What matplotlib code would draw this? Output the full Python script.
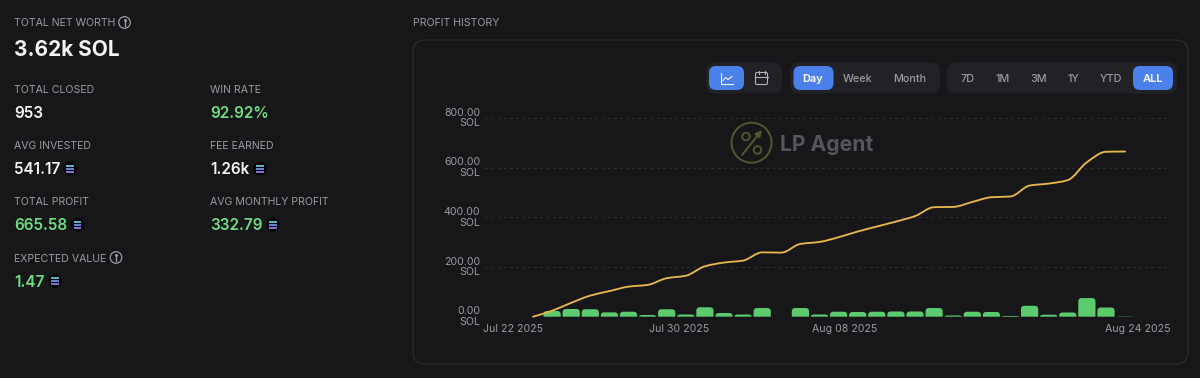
"""
Profit history dashboard: stats panel on the left, bars + cumulative line on the right.
"""
import numpy as np
import matplotlib
matplotlib.use('Agg')
import matplotlib.pyplot as plt
from matplotlib.patches import Circle, FancyBboxPatch, PathPatch
from matplotlib.path import Path

plt.rcParams['font.family'] = ['Inter', 'DejaVu Sans']

# --- Data ---
daily_profit = [23, 31, 30, 17.5, 20, 7, 30, 9, 38, 15, 9, 35, 0, 35, 9, 20, 19, 20, 21, 21,
                35, 5, 20, 19, 3, 44, 8, 17, 75, 37, 1]
total_profit = [0, 24, 56, 85, 103, 121, 128, 155, 165, 203, 218, 226, 259, 258, 293, 301, 320,
                343, 363, 383, 405, 441, 442, 462, 481, 484, 528, 536, 550, 622, 664, 665]
y_ticks = [0, 200, 400, 600, 800]
y_tick_labels = ['0.00\nSOL', '200.00\nSOL', '400.00\nSOL', '600.00\nSOL', '800.00\nSOL']
date_labels = ['Jul 22 2025', 'Jul 30 2025', 'Aug 08 2025', 'Aug 24 2025']

stat_labels = ['TOTAL CLOSED', 'WIN RATE', 'AVG INVESTED', 'FEE EARNED',
               'TOTAL PROFIT', 'AVG MONTHLY PROFIT', 'EXPECTED VALUE']
stat_values = ['953', '92.92%', '541.17', '1.26k', '665.58', '332.79', '1.47']

BG = '#17171a'
PILL = '#222226'
BLUE = '#4b80ea'
GREEN = '#6fdc82'
BAR = '#5ccb6d'
GOLD = '#e6b54c'
LABEL = '#9b9b9f'
WHITE = '#f4f4f5'
OLIVE = '#55562f'

fig = plt.figure(figsize=(12, 3.78), dpi=100, facecolor=BG)

# UI layer in pixel coordinates
ui = fig.add_axes([0, 0, 1, 1])
ui.set_xlim(0, 1200)
ui.set_ylim(378, 0)
ui.axis('off')


def txt(x, y, s, size, color, weight='normal', ha='left'):
    ui.text(x, y, s, fontsize=size, color=color, fontweight=weight, ha=ha, va='center_baseline')


def pill(x0, y0, x1, y1, color, r=8):
    ui.add_patch(FancyBboxPatch((x0 + r, y0 + r), x1 - x0 - 2 * r, y1 - y0 - 2 * r,
                                boxstyle=f'round,pad={r},rounding_size={r}', fc=color, ec='none'))


def info_icon(x, y):
    ui.add_patch(Circle((x, y), 5.8, fc='none', ec=LABEL, lw=0.9))
    ui.plot([x, x], [y - 0.5, y + 3], color=LABEL, lw=1)
    ui.plot([x], [y - 2.6], 'o', color=LABEL, ms=1.2)


def sol_icon(x, y):
    ui.add_patch(Circle((x, y), 7, fc='#060608', ec='none'))
    for dy, c in zip([-3, 0, 3], ['#62c4e6', '#6f8fe8', '#8f7fe8']):
        ui.plot([x - 3.8, x + 3.8], [y + dy, y + dy], color=c, lw=1.3, solid_capstyle='butt')


# Left stats
txt(14, 22.5, 'TOTAL NET WORTH', 7.6, LABEL)
info_icon(124.5, 22.5)
txt(14, 47.5, '3.62k SOL', 15, WHITE, 'bold')

stat_x = [14, 210, 14, 210, 14, 210, 14]
label_y = [89, 89, 145, 145, 201, 201, 257.5]
value_y = [112.5, 112.5, 168.5, 168.5, 224.5, 224.5, 281]
value_col = [WHITE, GREEN, WHITE, WHITE, GREEN, GREEN, GREEN]
for i in range(len(stat_labels)):
    txt(stat_x[i], label_y[i], stat_labels[i], 7.6, LABEL)
    txt(stat_x[i], value_y[i], stat_values[i], 11, value_col[i], 'semibold')
info_icon(116, 257.5)
for x, y in [(70, 168.5), (260, 168.5), (77.5, 224.5), (273, 224.5), (55, 281)]:
    sol_icon(x, y)

# Chart panel
txt(413, 22.5, 'PROFIT HISTORY', 7.6, LABEL)
ui.add_patch(FancyBboxPatch((425, 52), 751, 300, boxstyle='round,pad=12,rounding_size=12',
                            fc='none', ec='#2c2c30', lw=0.9))

# Button groups
pill(706, 62.5, 782, 93.5, PILL, 9)
pill(790, 62.5, 940, 93.5, PILL, 9)
pill(947, 62.5, 1177, 93.5, PILL, 9)
pill(709, 66, 744, 90, BLUE, 7)
pill(793.5, 66, 833.5, 90, BLUE, 7)
pill(1133, 66, 1173, 90, BLUE, 7)

for x, s in [(858, 'Week'), (910, 'Month'), (967.5, '7D'), (1002.5, '1M'), (1039, '3M'),
             (1073, '1Y'), (1111.5, 'YTD')]:
    txt(x, 78, s, 7.8, LABEL, 'medium', 'center')
txt(813, 78, 'Day', 7.8, WHITE, 'bold', 'center')
txt(1153, 78, 'ALL', 7.8, WHITE, 'bold', 'center')

# Line chart icon
ui.plot([721, 721, 732.5], [73, 83.5, 83.5], color=WHITE, lw=0.8)
ui.plot([723, 725.5, 728, 732], [80.5, 77.5, 79.5, 76.5], color=WHITE, lw=0.8)
# Calendar icon
ui.add_patch(FancyBboxPatch((757, 74), 9, 9, boxstyle='round,pad=1.5,rounding_size=1.5',
                            fc='none', ec='#b5b5b8', lw=0.8))
ui.plot([755.5, 767.5], [76.5, 76.5], color='#b5b5b8', lw=0.8)
ui.plot([758.5, 758.5], [71, 74], color='#b5b5b8', lw=0.8)
ui.plot([764.5, 764.5], [71, 74], color='#b5b5b8', lw=0.8)

# Watermark
ui.add_patch(Circle((751.5, 142.7), 20, fc='none', ec=OLIVE, lw=1.4))
ui.add_patch(Circle((746, 136.5), 3.8, fc='none', ec=OLIVE, lw=1.3))
ui.add_patch(Circle((757.5, 150), 3.8, fc='none', ec=OLIVE, lw=1.3))
ui.annotate('', xy=(762, 130), xytext=(742, 155),
            arrowprops=dict(arrowstyle='-|>', color=OLIVE, lw=1.4, mutation_scale=9, shrinkA=0, shrinkB=0))
txt(780, 143, 'LP Agent', 15.2, '#56565a', 'bold')

# Chart axes: one unit on x = one day, 19.1 px
x0_px, x1_px, top_px, bot_px = 485, 1168, 118, 316.7
ax = fig.add_axes([x0_px / 1200, 1 - bot_px / 378, (x1_px - x0_px) / 1200, (bot_px - top_px) / 378])
ax.patch.set_alpha(0)
day_px = 19.1
ax.set_xlim((x0_px - 533) / day_px, (x1_px - 533) / day_px)
ax.set_ylim(0, 800)
for s in ax.spines.values():
    s.set_visible(False)
ax.set_yticks(y_ticks, y_tick_labels, fontsize=7.6, color=LABEL, linespacing=1.05, ha='right', va='center')
ax.tick_params(axis='y', length=0, pad=3.5)
ax.tick_params(axis='x', length=0, pad=5)
ax.grid(axis='y', color='#303034', lw=0.8, ls=(0, (2.5, 3)))
ax.set_axisbelow(True)
for lab in ax.get_yticklabels():
    lab.set_clip_on(False)

# Date labels sit where the page put them, not exactly under their day
tick_px = [513, 679, 845, 1137.5]
ax.set_xticks([(p - 533) / day_px for p in tick_px], date_labels, fontsize=7.6, color=LABEL, ha='center')

# Bars with rounded tops
days = np.arange(1, len(daily_profit) + 1)
bar_w = 0.9
rx = 3.5 / day_px
ry_full = 3.5 / ((bot_px - top_px) / 800)
for d, v in zip(days, daily_profit):
    if v <= 0:
        continue
    ry = min(ry_full, v)
    l, r = d - bar_w / 2, d + bar_w / 2
    verts = [(l, 0), (l, v - ry), (l, v), (l + rx, v), (r - rx, v), (r, v), (r, v - ry), (r, 0), (l, 0)]
    codes = [Path.MOVETO, Path.LINETO, Path.CURVE3, Path.CURVE3, Path.LINETO,
             Path.CURVE3, Path.CURVE3, Path.LINETO, Path.CLOSEPOLY]
    ax.add_patch(PathPatch(Path(verts, codes), fc=BAR, ec='none', zorder=2))

# Smooth line through the read values (bezier segments, flat where the curve turns flat)
xs = np.arange(len(total_profit), dtype=float)
ys = np.array(total_profit, dtype=float)
slopes = np.diff(ys)
tang = np.zeros_like(ys)
for i in range(1, len(ys) - 1):
    a, b = slopes[i - 1], slopes[i]
    tang[i] = 0 if a * b <= 0 else 2 * a * b / (a + b)
tang[0], tang[-1] = slopes[0], 0
verts = [(xs[0], ys[0])]
codes = [Path.MOVETO]
for i in range(len(ys) - 1):
    verts += [(xs[i] + 1 / 3, ys[i] + tang[i] / 3), (xs[i + 1] - 1 / 3, ys[i + 1] - tang[i + 1] / 3),
              (xs[i + 1], ys[i + 1])]
    codes += [Path.CURVE4] * 3
ax.add_patch(PathPatch(Path(verts, codes), fc='none', ec=GOLD, lw=1.35, zorder=3, clip_on=False,
                       capstyle='round'))

plt.savefig('out.png', dpi=100, facecolor=BG)
plt.close()
